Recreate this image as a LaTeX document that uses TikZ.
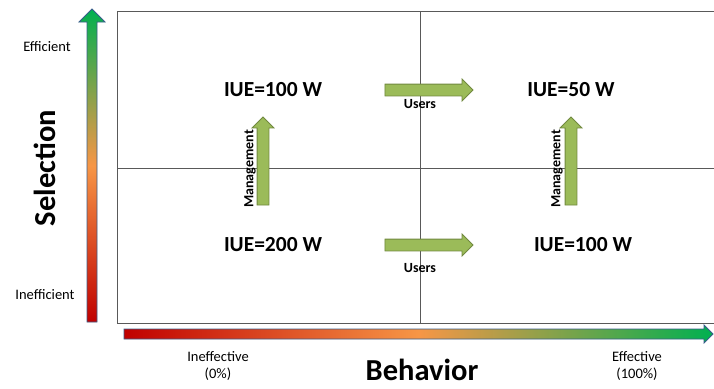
\documentclass[tikz,border=0pt]{standalone}
\usepackage{fontspec}
\setmainfont{Carlito}
\usetikzlibrary{shapes.arrows,positioning}

\definecolor{lowred}{RGB}{192,0,0}
\definecolor{midorange}{RGB}{247,150,70}
\definecolor{highgreen}{RGB}{0,176,80}
\definecolor{arrowblue}{RGB}{56,93,138}
\definecolor{leafgreen}{RGB}{155,187,89}
\definecolor{leafedge}{RGB}{113,137,63}

\tikzset{
  quadline/.style={draw=black!65, line width=0.9pt},
  iue/.style={font=\fontsize{21.5}{24}\selectfont\bfseries},
  axislabel/.style={font=\fontsize{30.5}{34}\selectfont\bfseries},
  endlabel/.style={font=\fontsize{14.5}{17}\selectfont, align=center},
  movelabel/.style={font=\fontsize{14}{16}\selectfont\bfseries, inner sep=0pt},
  greenarrow/.style={single arrow, draw=leafedge, fill=leafgreen, line width=0.8pt,
    minimum height=88pt, inner xsep=0pt, inner ysep=5.5pt,
    single arrow head extend=5pt, single arrow head indent=0pt}
}

\begin{document}
\begin{tikzpicture}[x=1pt,y=-1pt]
\useasboundingbox (0,0) rectangle (714,388);

% quadrants
\draw[quadline] (714,11) -- (117,11) -- (117,323) -- (714,323);
\draw[quadline] (117,168) -- (714,168);
\draw[quadline] (420,11) -- (420,323);

% gradient axes
\shadedraw[draw=arrowblue, line width=0.8pt, bottom color=lowred, top color=highgreen, middle color=midorange]
  (87,322) -- (87,22) -- (79,22) -- (92,9) -- (105,22) -- (97,22) -- (97,322) -- cycle;
\shadedraw[draw=arrowblue, line width=0.8pt, left color=lowred, right color=highgreen, middle color=midorange]
  (124,329) -- (704,329) -- (704,325) -- (713,334) -- (704,343) -- (704,339) -- (124,339) -- cycle;

% axis texts
\node[endlabel] (eff) at (47,47) {Efficient};
\node[endlabel] (ineff) at (45,295) {Inefficient};
\node[axislabel, rotate=90] (sel) at (45,168) {Selection};
\node[axislabel] (beh) at (422,370) {Behavior};
\node[endlabel] (ineffective) at (218,366) {Ineffective\\(0\%)};
\node[endlabel] (effective) at (637,366) {Effective\\(100\%)};

% quadrant values
\node[iue] (q1) at (273,90) {IUE=100 W};
\node[iue] (q2) at (571,90) {IUE=50 W};
\node[iue] (q3) at (273,245) {IUE=200 W};
\node[iue] (q4) at (583,245) {IUE=100 W};

% moves
\node[greenarrow] (usersT) at (426,90) {};
\node[greenarrow] (usersB) at (426,245) {};
\node[greenarrow, rotate=90] (mgmtL) at (263,164) {};
\node[greenarrow, rotate=90] (mgmtR) at (571,164) {};

\node[movelabel] at (420,104) {Users};
\node[movelabel] at (420,268) {Users};
\node[movelabel, rotate=90] at (250,169) {Management};
\node[movelabel, rotate=90] at (557,169) {Management};
\end{tikzpicture}
\end{document}
